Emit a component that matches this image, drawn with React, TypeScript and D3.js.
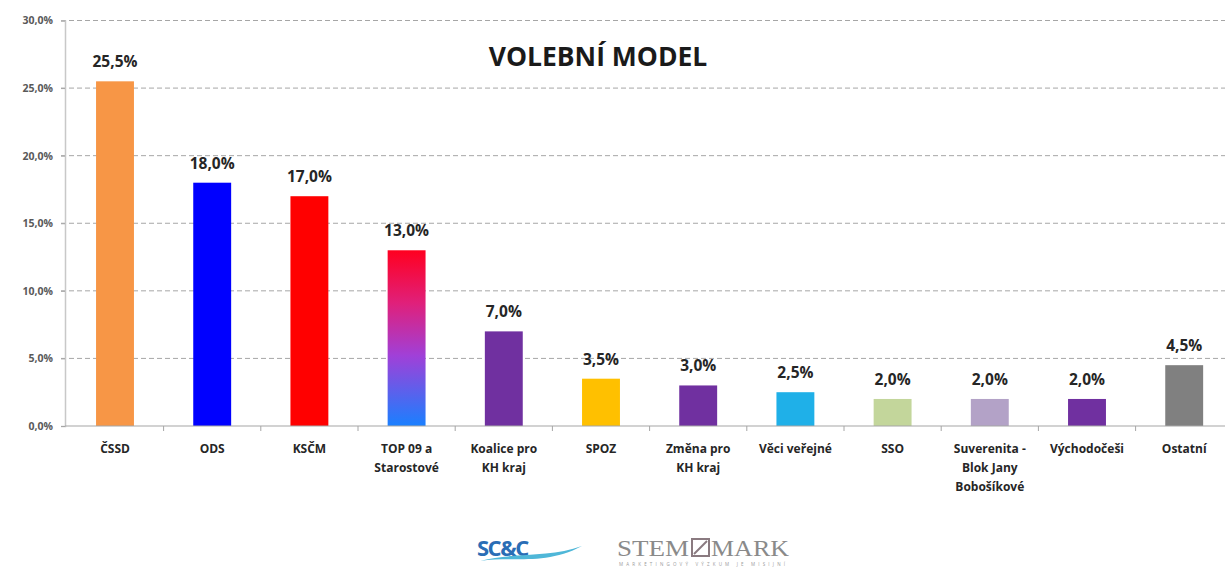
import React, { useEffect, useRef } from 'react';
import * as d3 from 'd3';

// volební model - data
const categories = [
  'ČSSD', 'ODS', 'KSČM', 'TOP 09 a|Starostové', 'Koalice pro|KH kraj', 'SPOZ',
  'Změna pro|KH kraj', 'Věci veřejné', 'SSO', 'Suverenita -|Blok Jany|Bobošíkové',
  'Východočeši', 'Ostatní',
];
const values = [25.5, 18.0, 17.0, 13.0, 7.0, 3.5, 3.0, 2.5, 2.0, 2.0, 2.0, 4.5];
const barColors = [
  '#f79646', '#0000ff', '#ff0000', 'url(#top09-grad)', '#7030a0', '#ffc000',
  '#7030a0', '#1fb0e8', '#c3d69b', '#b3a2c7', '#7030a0', '#808080',
];
const yTicks = [0, 5, 10, 15, 20, 25, 30];

const W = 1225;
const H = 570;
const font = '"Open Sans", "DejaVu Sans", sans-serif';
const fmt = (v: number) => v.toFixed(1).replace('.', ',') + '%';

export default function App() {
  const ref = useRef<SVGSVGElement>(null);

  useEffect(() => {
    document.body.style.margin = '0';
    const svg = d3.select(ref.current);
    svg.selectAll('*').remove();

    const left = 65;
    const bandLeft = 66.4;
    const top = 20.5;
    const bottom = 426;
    const step = 97.2;

    const x = d3.scaleBand()
      .domain(categories)
      .range([bandLeft, bandLeft + step * categories.length])
      .paddingInner(0.61)
      .paddingOuter(0.305);
    const y = d3.scaleLinear().domain([0, 30]).range([bottom, top]);

    // gradient for TOP 09
    const grad = svg.append('defs').append('linearGradient')
      .attr('id', 'top09-grad')
      .attr('x1', '0%').attr('y1', '0%').attr('x2', '0%').attr('y2', '100%');
    grad.append('stop').attr('offset', '0%').style('stop-color', '#ff0020');
    grad.append('stop').attr('offset', '30%').style('stop-color', '#e0207a');
    grad.append('stop').attr('offset', '60%').style('stop-color', '#a040d8');
    grad.append('stop').attr('offset', '100%').style('stop-color', '#1a80ff');

    svg.append('rect').attr('width', W).attr('height', H).attr('fill', '#fff');

    // mřížka
    const grid = svg.append('g');
    grid.selectAll('line').data(yTicks.filter(t => t > 0)).enter()
      .append('line')
      .attr('x1', left - 4).attr('x2', W)
      .attr('y1', d => y(d)).attr('y2', d => y(d))
      .attr('stroke', '#a6a6a6')
      .attr('stroke-width', 1)
      .attr('stroke-dasharray', '5,3');

    // osa y
    const yAxis = d3.axisLeft(y).tickValues(yTicks).tickSize(4).tickPadding(8)
      .tickFormat(d => fmt(d as number));
    const ya = svg.append('g').attr('transform', `translate(${left},0)`).call(yAxis);
    ya.select('path').attr('stroke', '#c8c8c8').attr('stroke-width', 1.5);
    ya.selectAll('line').attr('stroke', '#a6a6a6');
    ya.selectAll('text')
      .attr('font-family', font).attr('font-size', 10.5).attr('font-weight', 700)
      .attr('fill', '#595959');

    // sloupce
    svg.append('g').selectAll('rect').data(values).enter()
      .append('rect')
      .attr('x', (d, i) => x(categories[i]) as number)
      .attr('width', x.bandwidth())
      .attr('y', d => y(d))
      .attr('height', d => bottom - y(d))
      .attr('fill', (d, i) => barColors[i]);

    // hodnoty
    svg.append('g').selectAll('text').data(values).enter()
      .append('text')
      .attr('x', (d, i) => (x(categories[i]) as number) + x.bandwidth() / 2)
      .attr('y', d => y(d) - 14)
      .attr('text-anchor', 'middle')
      .attr('font-family', font).attr('font-size', 15.5).attr('font-weight', 700)
      .attr('fill', '#262626')
      .text(d => fmt(d));

    // osa x
    svg.append('line')
      .attr('x1', left).attr('x2', W)
      .attr('y1', bottom).attr('y2', bottom)
      .attr('stroke', '#a6a6a6').attr('stroke-width', 1.2);
    svg.append('g').selectAll('line').data(d3.range(1, categories.length)).enter()
      .append('line')
      .attr('x1', i => bandLeft + step * i).attr('x2', i => bandLeft + step * i)
      .attr('y1', bottom).attr('y2', bottom + 5)
      .attr('stroke', '#a6a6a6');

    const lab = svg.append('g').selectAll('text').data(categories).enter()
      .append('text')
      .attr('x', d => (x(d) as number) + x.bandwidth() / 2)
      .attr('y', 453)
      .attr('text-anchor', 'middle')
      .attr('font-family', font).attr('font-size', 12).attr('font-weight', 700)
      .attr('fill', '#262626');
    lab.each(function (d) {
      const t = d3.select(this);
      d.split('|').forEach((s, i) => {
        t.append('tspan')
          .attr('x', (x(d) as number) + x.bandwidth() / 2)
          .attr('dy', i === 0 ? 0 : 19)
          .text(s);
      });
    });

    // nadpis
    svg.append('text')
      .attr('x', 598).attr('y', 66)
      .attr('text-anchor', 'middle')
      .attr('font-family', font).attr('font-size', 26.5).attr('font-weight', 700)
      .attr('fill', '#1a1a1a')
      .text('VOLEBNÍ MODEL');

    // loga
    const logo = svg.append('g');
    logo.append('text')
      .attr('x', 477).attr('y', 556)
      .attr('font-family', font).attr('font-size', 22).attr('font-weight', 700)
      .attr('letter-spacing', -1.5)
      .attr('fill', '#2a6db5')
      .text('SC&C');
    logo.append('path')
      .attr('d', 'M480,561 C510,556 545,566 582,546 C550,558 515,552 480,561 Z')
      .attr('fill', '#4fb7d8');
    logo.append('text')
      .attr('x', 617).attr('y', 556)
      .attr('font-family', '"Liberation Serif", serif').attr('font-size', 24)
      .attr('textLength', 72).attr('lengthAdjust', 'spacingAndGlyphs')
      .attr('fill', '#8a8a8a')
      .text('STEM');
    logo.append('rect')
      .attr('x', 692).attr('y', 539).attr('width', 17).attr('height', 17)
      .attr('fill', 'none').attr('stroke', '#8a7a80').attr('stroke-width', 2);
    logo.append('line')
      .attr('x1', 694).attr('y1', 554).attr('x2', 707).attr('y2', 541)
      .attr('stroke', '#8a7a80').attr('stroke-width', 2);
    logo.append('text')
      .attr('x', 711).attr('y', 556)
      .attr('font-family', '"Liberation Serif", serif').attr('font-size', 24)
      .attr('textLength', 78).attr('lengthAdjust', 'spacingAndGlyphs')
      .attr('fill', '#8a8a8a')
      .text('MARK');
    logo.append('text')
      .attr('x', 619).attr('y', 566)
      .attr('font-family', font).attr('font-size', 4.5)
      .attr('textLength', 166)
      .attr('fill', '#9a9a9a')
      .text('MARKETINGOVÝ VÝZKUM JE MISIJNÍ');
  }, []);

  return (
    <svg ref={ref} width={W} height={H} style={{ display: 'block' }} />
  );
}
